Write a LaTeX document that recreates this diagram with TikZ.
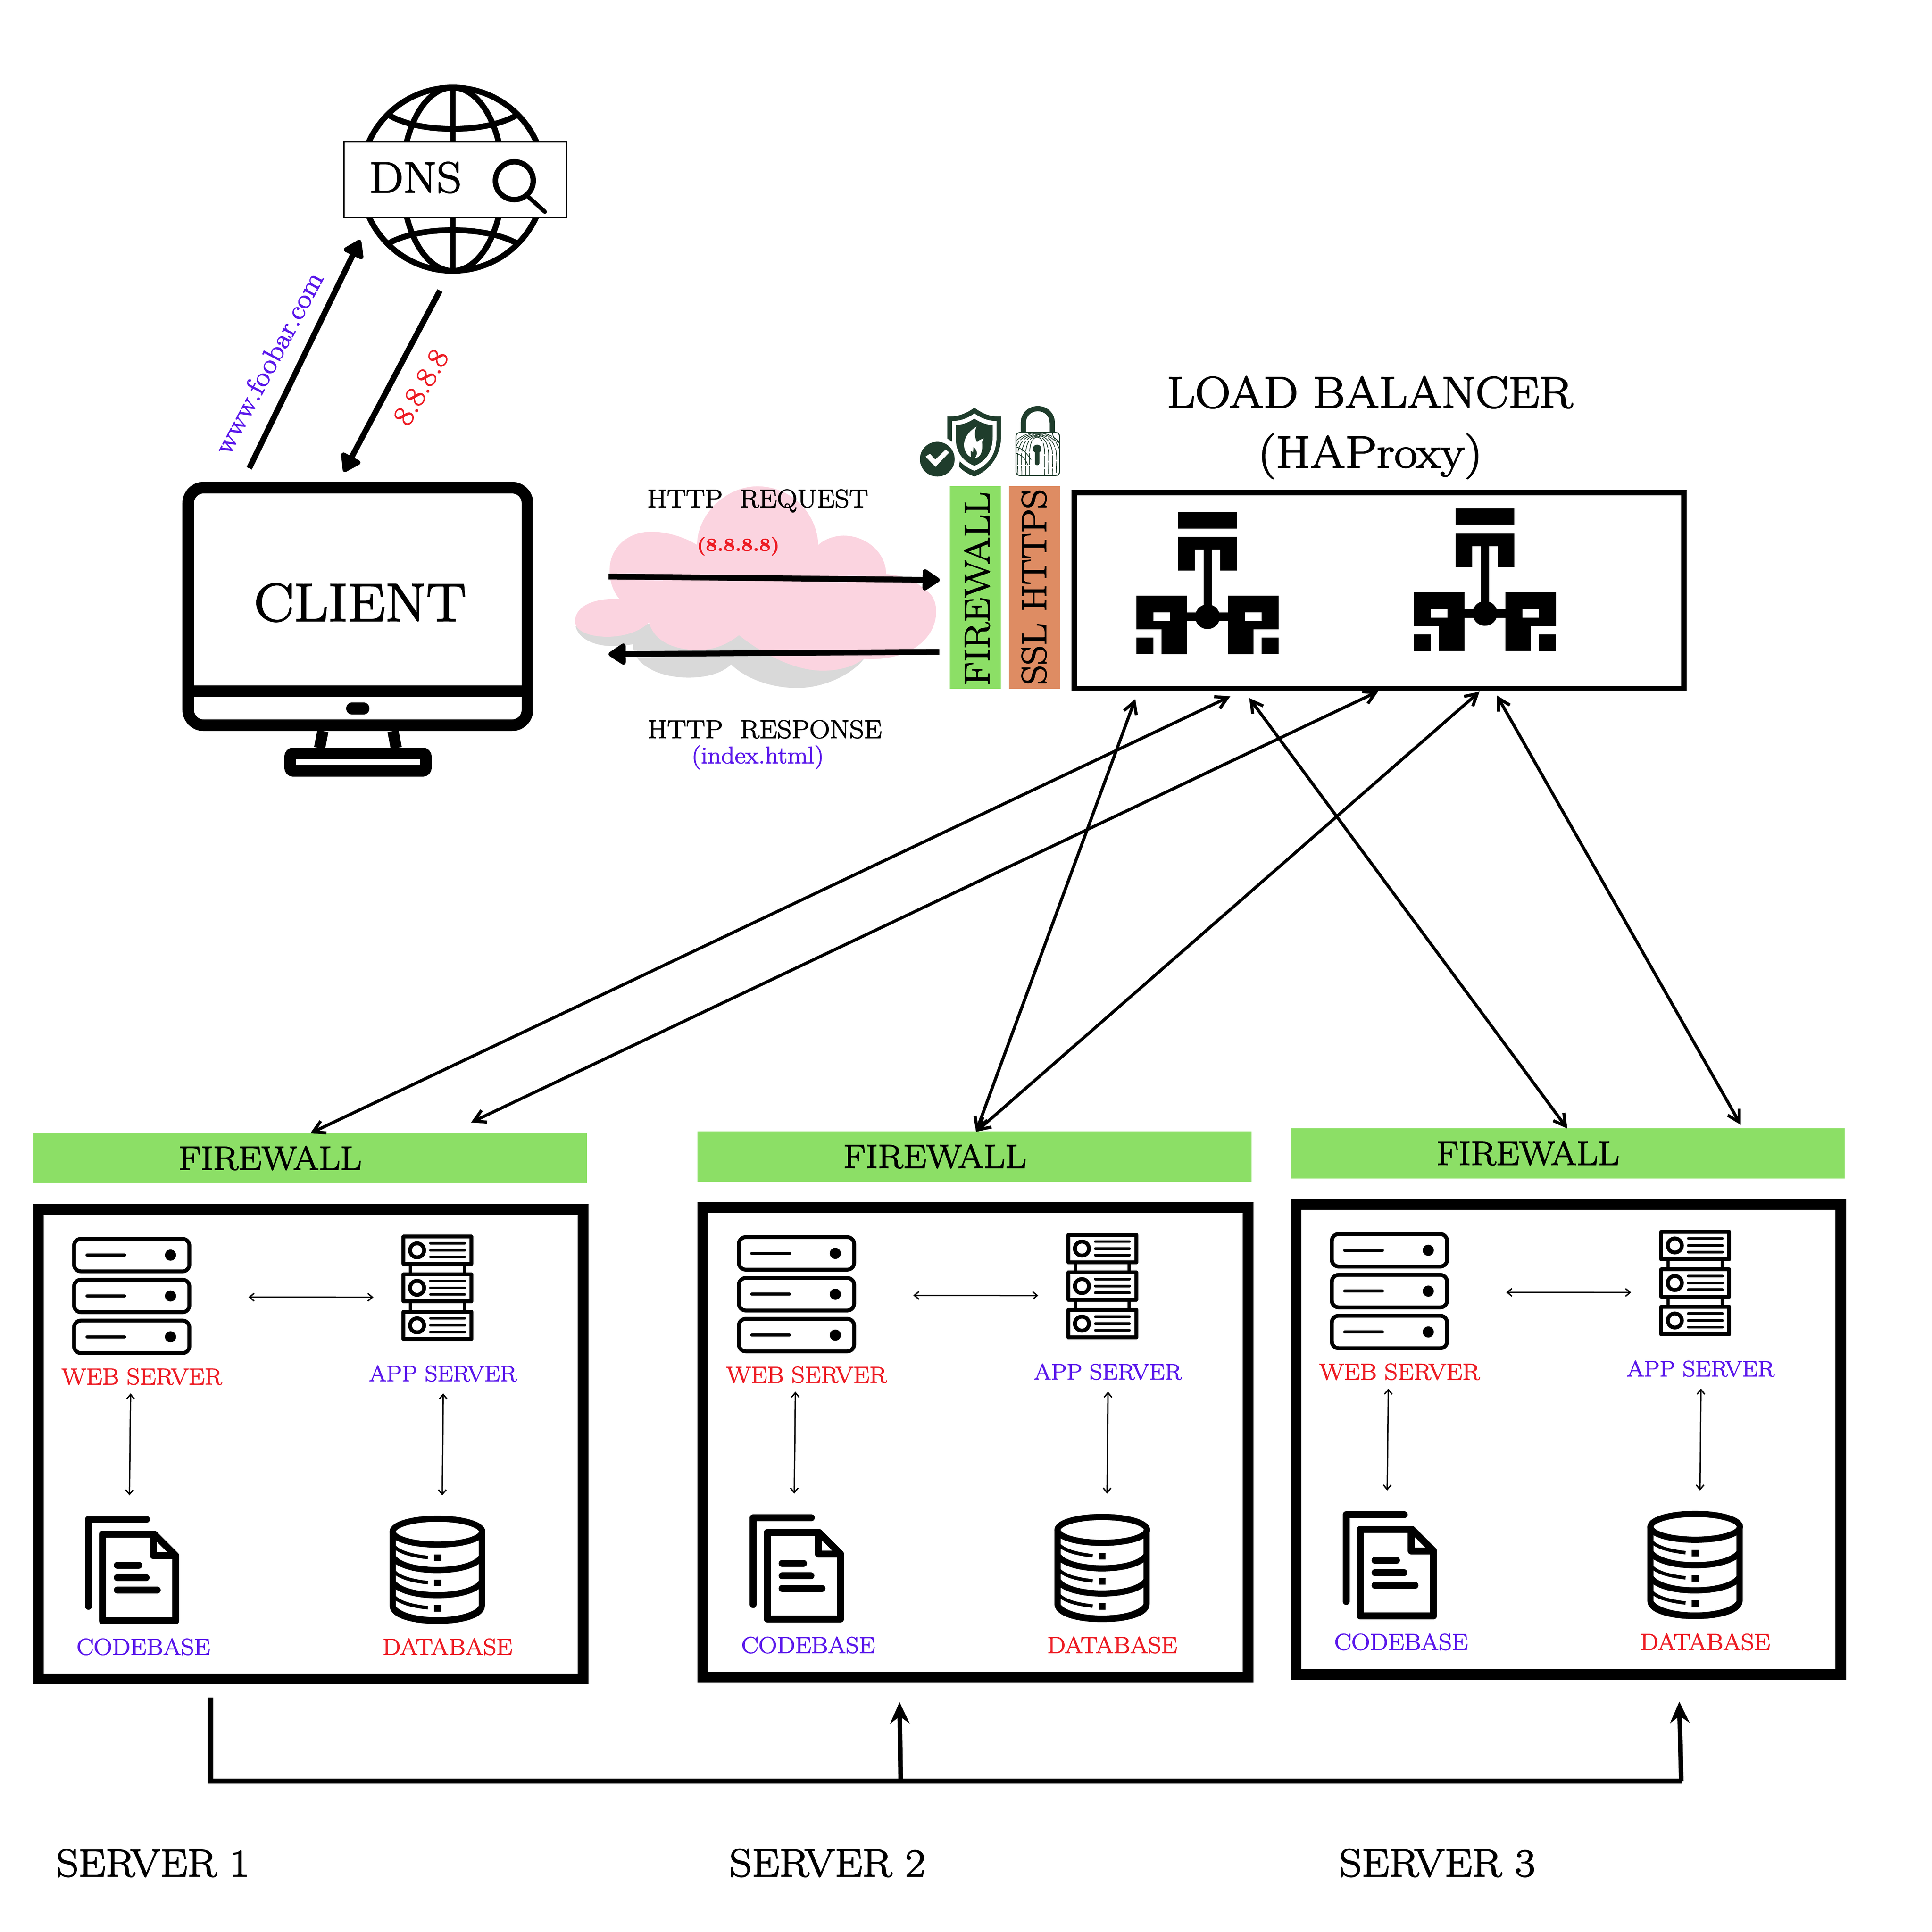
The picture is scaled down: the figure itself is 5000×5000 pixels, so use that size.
\documentclass[tikz,border=0pt]{standalone}
\usepackage{fontspec}
\setmainfont{Latin Modern Roman}[FakeBold=2.4,FakeStretch=1.11]
\usepackage{tikz}
\usetikzlibrary{arrows.meta}
\newcommand{\fsz}[1]{\fontsize{#1}{#1}\selectfont}
\definecolor{fwgreen}{HTML}{8CDF66}
\definecolor{sslorange}{HTML}{DE8C63}
\definecolor{cloudpink}{HTML}{FBD4E0}
\definecolor{cloudgrey}{HTML}{D9D9D9}
\definecolor{lblred}{HTML}{ED1C24}
\definecolor{lblpurple}{HTML}{5A17EB}
\definecolor{shieldgreen}{HTML}{1F3D2C}
\tikzset{
  lbl/.style={inner sep=0pt,anchor=base},
  fatarr/.style={line width=.15cm,-{Triangle[round,length=.5cm,width=.62cm]}},
  linkarr/.style={line width=.08cm,{Straight Barb[length=.3cm,width=.34cm]}-{Straight Barb[length=.3cm,width=.34cm]}},
  thinarr/.style={line width=.035cm,{Straight Barb[length=.12cm,width=.2cm]}-{Straight Barb[length=.12cm,width=.2cm]}},
  busline/.style={line width=.13cm},
  busarr/.style={line width=.12cm,-{Stealth[length=.55cm,width=.5cm]}},
  fwbar/.style={fill=fwgreen,inner sep=0pt,minimum width=14.335cm,minimum height=1.295cm},
  panelbox/.style={draw,line width=.28cm,inner sep=0pt,minimum width=14.1cm,minimum height=12.15cm},
  serverunit/.pic={
    \node (-fw) [fwbar] at (801.7,2997.2) {};
    \node (-panel) [panelbox] at (804,3737.5) {};
    \node (-fwlabel) [lbl,font=\fsz{24.6}] at (699,3027) {FIREWALL};
    \node (-web) [lbl,font=\fsz{17},text=lblred] at (367,3583) {WEB SERVER};
    \node (-app) [lbl,font=\fsz{16.4},text=lblpurple] at (1146.4,3574.5) {APP SERVER};
    \node (-code) [lbl,font=\fsz{17},text=lblpurple] at (371,4282.4) {CODEBASE};
    \node (-data) [lbl,font=\fsz{17},text=lblred] at (1158,4282.4) {DATABASE};
    \coordinate (-wa) at (643,3357);
    \coordinate (-aw) at (966.5,3357.3);
    \coordinate (-wc) at (338,3606);
    \coordinate (-cw) at (335,3870);
    \coordinate (-ad) at (1147,3606);
    \coordinate (-da) at (1144.5,3870);
    \draw[thinarr] (-wa) -- (-aw);
    \draw[thinarr] (-wc) -- (-cw);
    \draw[thinarr] (-ad) -- (-da);
    % icons, same for each server
    \begin{scope}[shift={(50,2900)},scale=.9567]
      \foreach \d in {0,110.5,221} {
        \draw[line width=.1cm,rounded corners=.18cm] (148,320+\d) rectangle (460,408+\d);
        \draw[line width=.08cm,line cap=round] (183,364+\d) -- (285,364+\d);
        \fill (409,364+\d) circle[radius=15];
      }
      \foreach \d in {0,101.5,203} {
        \draw[line width=.1cm,line join=round] (1039,314+\d) rectangle (1223,388+\d);
        \draw[line width=.1cm] (1076,351+\d) circle[radius=19];
        \draw[line width=.065cm,line cap=round] (1112,332+\d) -- (1205,332+\d);
        \draw[line width=.065cm,line cap=round] (1112,351+\d) -- (1205,351+\d);
        \draw[line width=.065cm,line cap=round] (1112,369+\d) -- (1205,369+\d);
      }
      \foreach \d in {0,101.5} {
        \draw[line width=.08cm] (1058,388+\d) -- (1058,416+\d);
        \draw[line width=.08cm] (1204,388+\d) -- (1204,416+\d);
      }
      % codebase
      \draw[line width=.18cm,line cap=round,line join=round] (344,1079) -- (187,1079) -- (187,1314);
      \draw[line width=.18cm,line join=round] (225,1119) -- (365,1119) -- (423,1177) -- (423,1353) -- (225,1353) -- cycle;
      \draw[line width=.18cm,line join=round] (363,1119) -- (363,1177) -- (423,1177);
      \draw[line width=.18cm,line cap=round] (265,1203) -- (323,1203);
      \draw[line width=.18cm,line cap=round] (265,1236) -- (343,1236);
      \draw[line width=.18cm,line cap=round] (265,1270) -- (373,1270);
      % database
      \draw[line width=.16cm] (1131,1112) ellipse[x radius=121,y radius=35];
      \draw[line width=.16cm] (1010,1112) -- (1010,1312) .. controls (1010,1367) and (1251,1367) .. (1251,1312) -- (1251,1112);
      \foreach \d in {0,68,136} {
        \draw[line width=.16cm] (1010,1180+\d) .. controls (1040,1228+\d) and (1221,1228+\d) .. (1251,1180+\d);
        \draw[line width=.09cm] (1014,1152+\d) .. controls (1030,1170+\d) and (1070,1178+\d) .. (1105,1182+\d);
        \fill (1122,1174+\d) rectangle (1140,1192+\d);
      }
    \end{scope}
  },
  lbicon/.pic={
    \fill (-76,-271.5) rectangle (76,-228.5);
    \fill (-76,-206.6) -- (76,-206.6) -- (76,-119.4) -- (33,-119.4) -- (33,-174) -- (-33,-174) -- (-33,-119.4) -- (-76,-119.4) -- cycle;
    \fill (-10.5,-175) rectangle (10.5,0);
    \fill (0,0) circle[radius=32];
    \fill (-53,-11.5) rectangle (53,11);
    \fill[even odd rule] (-184,-54.5) -- (-53,-54.5) -- (-53,97) -- (-119,97) -- (-119,32.7) -- (-184,32.7) -- cycle (-140,-11.5) rectangle (-97,11);
    \fill[even odd rule] (184,-54.5) -- (53,-54.5) -- (53,97) -- (119,97) -- (119,32.7) -- (184,32.7) -- cycle (140,-11.5) rectangle (97,11);
    \fill (-184,54) rectangle (-140,97);
    \fill (184,54) rectangle (140,97);
  }
}
\begin{document}
\begin{tikzpicture}[x=.01cm,y=-.01cm]
\useasboundingbox (0,0) rectangle (5000,5000);

% globe and DNS search box
\begin{scope}[shift={(400,150)},scale=.7653]
  \draw[line width=.15cm] (1008,410) circle[radius=310];
  \draw[line width=.15cm] (1008,410) ellipse[x radius=170,y radius=310];
  \draw[line width=.15cm] (1008,100) -- (1008,720);
  \draw[line width=.15cm] (795,195) .. controls (900,255) and (1115,255) .. (1222,195);
  \draw[line width=.15cm] (795,625) .. controls (900,568) and (1115,568) .. (1222,625);
\end{scope}
\node (dnsbox) [draw,fill=white,line width=.04cm,inner sep=0pt,minimum width=5.75cm,minimum height=1.96cm] at (1178,465) {};
\node (dns) [lbl,font=\fsz{32}] at (1075,498) {DNS};
\draw[line width=.14cm] (1331,467.6) circle[radius=49];
\draw[line width=.11cm,line cap=round] (1368,510) -- (1410,548);

% client monitor
\draw[line width=.3cm,rounded corners=.4cm] (487,1262) rectangle (1365,1877);
\fill (472,1774) rectangle (1380,1804);
\fill[rounded corners=.15cm] (896,1818) rectangle (956,1849);
\draw[line width=.29cm] (835.6,1892) -- (827,1936);
\draw[line width=.29cm] (1017,1892) -- (1025.6,1936);
\draw[line width=.3cm,rounded corners=.08cm] (751,1950) rectangle (1102,1995);
\node (client) [lbl,font=\fsz{39.5}] at (932,1607) {CLIENT};

% dns lookup
\coordinate (clout) at (645,1212);
\coordinate (dnsin) at (932,621);
\coordinate (dnsout) at (1138.5,752);
\coordinate (clin) at (890,1221);
\draw[fatarr] (clout) -- (dnsin);
\draw[fatarr] (dnsout) -- (clin);
\node (urllabel) [lbl,font=\fsz{20},text=lblpurple,rotate=62] at (716,950) {www.foobar.com};
\node (iplabel) [lbl,font=\fsz{21},text=lblred,rotate=60] at (1110,1014) {8.8.8.8};

% cloud
\begin{scope}[shift={(1450,1200)},xscale=.6378,yscale=.5102]
  \fill[cloudgrey] (62,825) .. controls (75,890) and (140,925) .. (210,925) .. controls (240,925) and (270,922) .. (297,915) .. controls (285,990) and (370,1085) .. (520,1085) .. controls (600,1085) and (660,1060) .. (693,1018) .. controls (760,1100) and (870,1138) .. (960,1138) .. controls (1080,1138) and (1190,1060) .. (1232,990) -- (700,800) -- cycle;
  \fill[cloudpink] (240,686) .. controls (150,680) and (60,715) .. (60,800) .. controls (60,850) and (120,878) .. (190,878) .. controls (260,878) and (325,850) .. (360,805) .. controls (380,900) and (460,945) .. (560,945) .. controls (625,945) and (680,915) .. (725,870) .. controls (820,965) and (950,1050) .. (1065,1050) .. controls (1130,1050) and (1190,1030) .. (1230,990) .. controls (1400,1005) and (1525,900) .. (1525,750) .. controls (1525,700) and (1510,660) .. (1480,640) .. controls (1440,590) and (1380,565) .. (1322,560) .. controls (1322,450) and (1240,365) .. (1150,365) .. controls (1110,365) and (1070,385) .. (1047,412) .. controls (1040,240) and (930,115) .. (800,115) .. controls (670,115) and (555,260) .. (555,412) .. controls (500,370) and (430,345) .. (370,345) .. controls (270,345) and (200,430) .. (200,540) .. controls (200,600) and (215,650) .. (240,686) -- cycle;
\end{scope}
\coordinate (reqa) at (1575,1492);
\coordinate (reqb) at (2432,1501);
\coordinate (resa) at (2431,1687);
\coordinate (resb) at (1575,1693);
\draw[fatarr] (reqa) -- (reqb);
\draw[fatarr] (resa) -- (resb);
\node (reqlabel) [lbl,font=\fsz{18.8}] at (1961,1313) {HTTP~~REQUEST};
\node (iplabeltwo) [lbl,font=\fsz{13.5}\bfseries,text=lblred] at (1910.5,1425.5) {(8.8.8.8)};
\node (reslabel) [lbl,font=\fsz{18.8}] at (1979,1910) {HTTP~~RESPONSE};
\node (indexlabel) [lbl,font=\fsz{17.6},text=lblpurple] at (1961,1975.5) {(index.html)};

% shield and padlock
\begin{scope}[shift={(2360,1030)},scale=.3333]
  \fill[shieldgreen] (485,75) .. controls (420,125) and (340,150) .. (275,143) -- (275,315) -- (312,340) -- (372,490) -- (365,533) .. controls (400,570) and (445,595) .. (485,610) .. controls (610,560) and (692,440) .. (692,300) -- (692,143) .. controls (620,150) and (550,125) .. (485,75) -- cycle;
  \fill[white,even odd rule] (485,120) .. controls (430,160) and (370,180) .. (312,178) -- (312,330) .. controls (312,440) and (380,525) .. (485,565) .. controls (590,525) and (657,440) .. (657,300) -- (657,178) .. controls (600,180) and (540,160) .. (485,120) -- cycle
    (485,160) .. controls (440,190) and (390,208) .. (342,210) -- (342,330) .. controls (342,420) and (400,495) .. (485,527) .. controls (570,495) and (627,420) .. (627,300) -- (627,210) .. controls (580,208) and (530,190) .. (485,160) -- cycle;
  \fill[white] (502,222) .. controls (440,260) and (405,310) .. (405,365) .. controls (405,405) and (425,445) .. (458,458) -- (455,410) -- (475,420) -- (478,380) .. controls (505,400) and (515,435) .. (490,465) .. controls (530,465) and (552,420) .. (545,345) .. controls (545,335) and (550,325) .. (560,315) .. controls (535,320) and (515,330) .. (505,345) .. controls (490,310) and (480,270) .. (502,222) -- cycle;
  \fill[white] (197,475) circle[radius=165];
  \fill[shieldgreen] (197,475) circle[radius=135];
  \fill[white] (106,455) -- (140,433) -- (182,478) -- (262,400) -- (290,423) -- (182,535) -- cycle;
  \draw[shieldgreen,line width=.135cm] (865,270) -- (865,197) .. controls (865,45) and (1090,45) .. (1090,197) -- (1090,270);
  \draw[shieldgreen,fill=white,line width=.025cm,rounded corners=.1cm] (808,268) rectangle (1147,602);
  \begin{scope}
    \clip[rounded corners=.1cm] (808,268) rectangle (1147,602);
    \foreach \r in {58,88,118,148,178,208} {
      \draw[shieldgreen,line width=.018cm,dash pattern=on .3cm off .04cm] (972-\r,620) .. controls (972-\r,520) and (972-\r*1.1,420) .. (972-\r*.9,370) .. controls (972-\r*.6,300-\r*.3) and (972+\r*.6,300-\r*.3) .. (972+\r*.9,370) .. controls (972+\r*1.1,420) and (972+\r,520) .. (972+\r,620);
    }
    \draw[shieldgreen,line width=.018cm] (808,380) .. controls (860,390) and (900,440) .. (925,480);
    \draw[shieldgreen,line width=.018cm] (808,430) .. controls (850,440) and (880,470) .. (900,520);
    \draw[shieldgreen,line width=.018cm] (1147,350) .. controls (1120,340) and (1100,320) .. (1090,270);
  \end{scope}
  \fill[shieldgreen] (972,395) circle[radius=33];
  \fill[shieldgreen,rounded corners=.05cm] (955,395) rectangle (990,522);
\end{scope}

% firewall, ssl
\node (fwbarv) [fill=fwgreen,inner sep=0pt,minimum width=1.315cm,minimum height=5.25cm] at (2524.2,1520.3) {};
\node (sslbar) [fill=sslorange,inner sep=0pt,minimum width=1.315cm,minimum height=5.25cm] at (2677.2,1520.3) {};
\node (fwlabelv) [lbl,font=\fsz{26},rotate=90] at (2560,1523.5) {FIREWALL};
\node (ssllabel) [lbl,font=\fsz{25.6},rotate=90] at (2707,1519) {SSL HTTPS};

% load balancer
\node (lb) [draw,line width=.14cm,inner sep=0pt,minimum width=15.77cm,minimum height=5.07cm] at (3568.5,1528.5) {};
\node (lbtitle) [lbl,font=\fsz{32.6}] at (3545,1055) {LOAD BALANCER};
\node (lbsub) [lbl,font=\fsz{33.2}] at (3546,1210) {(HAProxy)};
\pic (lbone) at (3125,1596) {lbicon};
\pic (lbtwo) at (3843,1587.5) {lbicon};

% servers
\pic (sone) at (0,0) {serverunit};
\pic (stwo) at (1720.5,-4.5) {serverunit};
\pic (sthree) at (3255,-12.5) {serverunit};

% links load balancer to servers
\coordinate (lka) at (3184,1802);
\coordinate (lkb) at (3567,1789);
\coordinate (lkc) at (2938,1809);
\coordinate (lkd) at (3829,1790);
\coordinate (lke) at (3233,1806.5);
\coordinate (lkf) at (3874,1800);
\coordinate (sva) at (803,2933);
\coordinate (svb) at (1219,2905);
\coordinate (svc) at (2526,2929);
\coordinate (sve) at (4056,2920.7);
\coordinate (svf) at (4505,2911);
\draw[linkarr] (sva) -- (lka);
\draw[linkarr] (svb) -- (lkb);
\draw[linkarr] (svc) -- (lkc);
\draw[linkarr] (svc) -- (lkd);
\draw[linkarr] (sve) -- (lke);
\draw[linkarr] (svf) -- (lkf);

% sync line under servers
\coordinate (busa) at (545,4393);
\coordinate (busb) at (545,4609.5);
\coordinate (busc) at (4354,4609.5);
\coordinate (busd) at (2331,4609.5);
\coordinate (bustwo) at (2328,4405);
\coordinate (buse) at (4351,4609.5);
\coordinate (busthree) at (4346,4403.6);
\draw[busline] (busa) -- (busb) -- (busc);
\draw[busarr] (busd) -- (bustwo);
\draw[busarr] (buse) -- (busthree);
\node (labone) [lbl,font=\fsz{28.6}] at (396,4856) {SERVER 1};
\node (labtwo) [lbl,font=\fsz{29}] at (2141.5,4856) {SERVER 2};
\node (labthree) [lbl,font=\fsz{29}] at (3719.5,4856) {SERVER 3};
\end{tikzpicture}
\end{document}
